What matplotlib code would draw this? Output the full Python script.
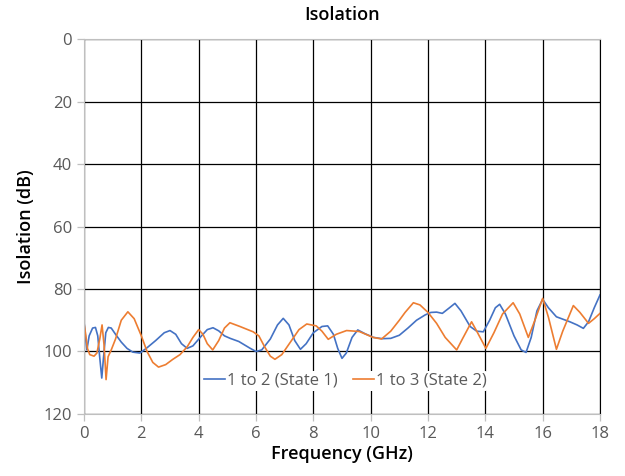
import numpy as np
import matplotlib.pyplot as plt

# 1 to 2 (State 1)
f_blue = [0.0, 0.05, 0.1, 0.18, 0.3, 0.4, 0.48, 0.55, 0.62, 0.68, 0.76, 0.85, 0.95,
          1.1, 1.3, 1.5, 1.7, 1.95, 2.2, 2.5, 2.8, 3.0, 3.2, 3.4, 3.6, 3.8, 4.1, 4.3,
          4.5, 4.7, 4.9, 5.1, 5.4, 5.8, 6.0, 6.2, 6.5, 6.75, 6.95, 7.15, 7.35, 7.55,
          7.75, 8.0, 8.3, 8.5, 8.7, 8.85, 9.0, 9.15, 9.35, 9.55, 9.8, 10.1, 10.4,
          10.7, 11.0, 11.3, 11.6, 11.9, 12.1, 12.3, 12.5, 12.75, 12.94, 13.15, 13.47,
          13.7, 13.93, 14.15, 14.35, 14.5, 14.7, 15.0, 15.25, 15.42, 15.6, 15.8, 16.0,
          16.2, 16.48, 16.95, 17.2, 17.42, 17.6, 17.8, 18.0]
iso_blue = [90.5, 95, 99.5, 95, 92.5, 92.3, 95, 102, 108.5, 102, 94, 92.3, 92.5,
            94.5, 97, 99, 100.2, 100.5, 98.8, 96.5, 94, 93.3, 94.5, 97.5, 99, 98.2, 95, 93,
            92.4, 93.4, 95, 95.8, 96.8, 99, 100, 99.5, 96, 91.5, 89.4, 91.5, 96.5, 99.3,
            97.5, 94, 92, 91.8, 94.5, 99, 102.2, 100.5, 95.5, 93.1, 94.3, 95.5, 95.9,
            95.8, 94.8, 92.5, 90, 88.3, 87.5, 87.4, 87.8, 86, 84.6, 87, 92,
            93.5, 93.7, 90, 86, 84.9, 88, 95, 99.5, 100.3, 95.5, 87, 83.3,
            86, 88.9, 90.5, 91.5, 92.6, 90.5, 86, 81.9]

# 1 to 3 (State 2)
f_orange = [0.0, 0.05, 0.12, 0.2, 0.35, 0.45, 0.55, 0.63, 0.7, 0.77, 0.84, 0.95, 1.1,
            1.3, 1.53, 1.75, 2.0, 2.2, 2.4, 2.6, 2.85, 3.1, 3.35, 3.6, 3.8, 4.0, 4.15,
            4.3, 4.49, 4.7, 4.9, 5.09, 5.44, 5.9, 6.1, 6.3, 6.5, 6.66, 6.9, 7.2, 7.5,
            7.77, 8.1, 8.3, 8.52, 8.8, 9.16, 9.6, 10.09, 10.38, 10.7, 11.0, 11.2, 11.49,
            11.72, 12.0, 12.3, 12.6, 13.0, 13.2, 13.52, 13.7, 14.02, 14.3, 14.6, 14.97,
            15.2, 15.5, 15.75, 16.0, 16.2, 16.48, 16.7, 17.07, 17.3, 17.6, 17.8, 18.0]
iso_orange = [91, 94, 99, 101, 101.5, 100.5, 96, 91.5, 98, 109, 101.7, 99.5, 96,
              90, 87.3, 89.5, 95, 100, 103.5, 105, 104.2, 102.5, 101, 98.5, 95.5, 93, 94.5,
              97.5, 99.5, 96.5, 92.5, 90.8, 92, 93.7, 95, 98.5, 101.5, 102.5, 101, 97, 93,
              91.2, 91.8, 93.5, 96.1, 94.5, 93.3, 93.6, 95.5, 96, 93.5, 90, 87.5, 84.4,
              85.1, 87.5, 91, 95.5, 99.5, 96, 90.5, 93.5, 99, 94, 88, 84.4,
              88, 95.5, 89.5, 83, 89, 99.3, 93.5, 85.3, 87.5, 91, 89.5, 87.8]

x_ticks = np.arange(0, 19, 2)
y_ticks = np.arange(0, 121, 20)

plt.rcParams['font.family'] = ['Open Sans', 'DejaVu Sans']

fig = plt.figure(figsize=(6.25, 4.76), dpi=100)
ax = fig.add_axes([0.1344, 0.1303, 0.8256, 0.7877])

ax.plot(f_blue, iso_blue, color='#4472C4', lw=1.2, label='1 to 2 (State 1)')
ax.plot(f_orange, iso_orange, color='#ED7D31', lw=1.2, label='1 to 3 (State 2)')

ax.set_xlim(0, 18)
ax.set_ylim(120, 0)
ax.set_xticks(x_ticks)
ax.set_yticks(y_ticks)
ax.grid(True, color='black', lw=0.9)
ax.set_axisbelow(True)

for s in ['top', 'left', 'bottom']:
    ax.spines[s].set_color('#BFBFBF')
ax.spines['right'].set_color('black')
ax.tick_params(colors='#BFBFBF', labelcolor='#595959', labelsize=12, length=5, width=0.9)

ax.set_title('Isolation', fontsize=13, fontweight='semibold', pad=14)
ax.set_xlabel('Frequency (GHz)', fontsize=13, fontweight='semibold', labelpad=2)
ax.set_ylabel('Isolation (dB)', fontsize=13, fontweight='semibold', labelpad=6)

leg = ax.legend(loc='center', bbox_to_anchor=(0.506, 0.088), ncol=2, frameon=True,
                fontsize=12, handlelength=1.3, handletextpad=0.1, columnspacing=0.9,
                borderpad=0.1, borderaxespad=0)
leg.get_frame().set_edgecolor('none')
leg.get_frame().set_facecolor('white')
leg.get_frame().set_alpha(1)
for t in leg.get_texts():
    t.set_color('#595959')

fig.savefig('out.png', dpi=100)
